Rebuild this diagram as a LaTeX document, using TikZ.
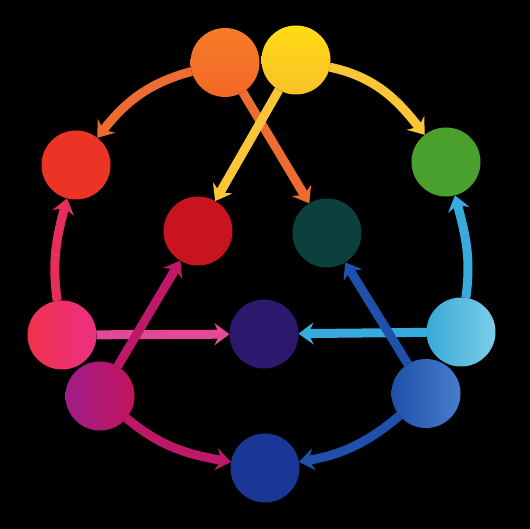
\documentclass[tikz,border=0pt]{standalone}
\usetikzlibrary{arrows.meta}
\pgfdeclarelayer{bg}
\pgfdeclarelayer{links}
\pgfsetlayers{bg,links,main}
\definecolor{cOrange}{RGB}{242,104,38}
\definecolor{cOrangeTop}{RGB}{246,124,40}
\definecolor{cYellow}{RGB}{255,220,20}
\definecolor{cYellowLow}{RGB}{250,192,40}
\definecolor{cRed}{RGB}{236,52,38}
\definecolor{cGreen}{RGB}{74,160,44}
\definecolor{cCrimson}{RGB}{200,20,30}
\definecolor{cTeal}{RGB}{12,64,60}
\definecolor{cPinkL}{RGB}{240,50,78}
\definecolor{cPinkR}{RGB}{236,48,130}
\definecolor{cMagL}{RGB}{160,30,135}
\definecolor{cMagR}{RGB}{195,20,95}
\definecolor{cIndigo}{RGB}{44,24,108}
\definecolor{cSkyL}{RGB}{55,170,215}
\definecolor{cSkyR}{RGB}{125,205,232}
\definecolor{cBlueL}{RGB}{32,80,170}
\definecolor{cBlueR}{RGB}{70,125,205}
\definecolor{cNavy}{RGB}{26,54,150}
% arrow colours
\definecolor{aOrange}{RGB}{236,108,50}
\definecolor{aYellow}{RGB}{250,198,55}
\definecolor{aPink}{RGB}{230,45,92}
\definecolor{aRose}{RGB}{228,72,150}
\definecolor{aMagenta}{RGB}{190,25,105}
\definecolor{aSky}{RGB}{55,170,222}
\definecolor{aBlue}{RGB}{30,80,172}
\begin{document}
\begin{tikzpicture}[x=1pt,y=1pt,
    dot/.style={circle,minimum size=69pt,inner sep=0pt,outer sep=0pt},
    link/.style={line width=9pt,-{Stealth[length=15pt,width=22pt,inset=5pt]}}]
  \begin{pgfonlayer}{bg}
    \fill[black] (0,0) rectangle (530,529);
  \end{pgfonlayer}
  % outer ring
  \node[dot,top color=cOrangeTop,bottom color=cOrange] (orange) at (225,466.5) {};
  \node[dot,top color=cYellow,bottom color=cYellowLow] (yellow) at (296,469) {};
  \node[dot,fill=cRed] (red) at (76,364) {};
  \node[dot,fill=cGreen] (green) at (446,367) {};
  \node[dot,left color=cPinkL,right color=cPinkR] (pink) at (62,194) {};
  \node[dot,left color=cSkyL,right color=cSkyR] (sky) at (461,197) {};
  \node[dot,left color=cMagL,right color=cMagR] (magenta) at (100,133) {};
  \node[dot,left color=cBlueL,right color=cBlueR] (blue) at (426,135.5) {};
  \node[dot,fill=cNavy] (navy) at (265,61) {};
  % inner triangle
  \node[dot,fill=cCrimson] (crimson) at (198,298) {};
  \node[dot,fill=cTeal] (teal) at (327,296) {};
  \node[dot,fill=cIndigo] (indigo) at (264,195) {};

  \begin{pgfonlayer}{links}
    \draw[link,aOrange] (orange) to[out=195,in=52] (red);
    \draw[link,aOrange] (orange) -- (teal);
    \draw[link,aYellow] (yellow) to[out=-12,in=128] (green);
    \draw[link,aYellow] (yellow) -- (crimson);
    \draw[link,aPink] (pink) to[out=98,in=255] (red);
    \draw[link,aRose] (pink) -- (indigo);
    \draw[link,aMagenta] (magenta) -- (crimson);
    \draw[link,aMagenta] (magenta) to[out=-40,in=170] (navy);
    \draw[link,aSky] (sky) to[out=82,in=285] (green);
    \draw[link,aSky] (sky) -- (indigo);
    \draw[link,aBlue] (blue) -- (teal);
    \draw[link,aBlue] (blue) to[out=220,in=10] (navy);
  \end{pgfonlayer}
\end{tikzpicture}
\end{document}
